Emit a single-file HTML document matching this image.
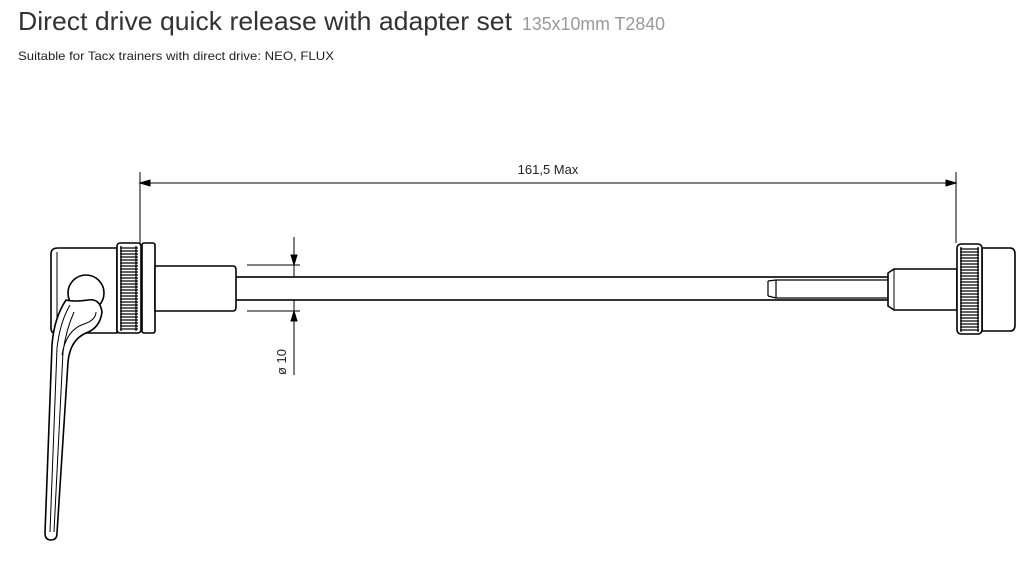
<!DOCTYPE html>
<html><head><style>body{margin:0;background:#fff}svg{display:block}</style></head><body>
<svg width="1032" height="568" xmlns="http://www.w3.org/2000/svg" font-family="Liberation Sans, sans-serif">
<text x="18" y="30" font-size="26" fill="#333" textLength="494" lengthAdjust="spacingAndGlyphs">Direct drive quick release with adapter set</text>
<text x="522" y="30" font-size="18" fill="#999" textLength="143" lengthAdjust="spacingAndGlyphs">135x10mm T2840</text>
<text x="18" y="60" font-size="12" fill="#222" textLength="316" lengthAdjust="spacingAndGlyphs">Suitable for Tacx trainers with direct drive: NEO, FLUX</text>
<g stroke="#000" fill="none" stroke-width="1">
<line x1="140" y1="172" x2="140" y2="243"/><line x1="956" y1="172" x2="956" y2="243"/>
<line x1="140" y1="183" x2="956" y2="183"/>
<path d="M140 183 l10 -3 v6 z M956 183 l-10 -3 v6 z" fill="#000"/>
<line x1="247" y1="265" x2="300" y2="265"/><line x1="247" y1="311" x2="300" y2="311"/>
<line x1="294" y1="237" x2="294" y2="375"/>
<path d="M294 265 l-3 -10 h6 z M294 311 l-3 10 h6 z" fill="#000"/>
</g>
<text x="548" y="174" font-size="13" text-anchor="middle" fill="#222">161,5 Max</text>
<text transform="translate(286,375) rotate(-90)" font-size="13" fill="#222">ø 10</text>
<g stroke="#000" fill="#fff" stroke-width="1.6">
<rect x="234" y="277" width="656" height="23"/>
<path d="M768 281 l8 -1 h113 M768 296 l8 2 h113 M768 281 v15 M776 280 v18" fill="none" stroke-width="1.2"/>
<path d="M58 248 H117 V333 H55 Q51 333 51 328 V254 Q51 248 58 248 Z"/>
<line x1="57" y1="252" x2="57" y2="330" stroke-width="1"/>
<rect x="117" y="243" width="24" height="90" rx="3"/>
<rect x="142" y="243" width="13" height="90" rx="2"/>
<path d="M155 266 H233 Q236 266 236 270 V307 Q236 311 233 311 H155 Z"/>
<circle cx="86" cy="293" r="18"/>
<path d="M66 300 Q54 318 52 345 L45 533 Q45 540 51 540 Q57 540 57 533 L68 362 Q70 340 86 333 Q100 328 102 312 Q100 298 88 300 Q74 302 66 300 Z"/>
<path d="M70 305 Q60 322 57 348 L50 532 M74 312 Q66 330 63 352 L54 532 M62 355 Q66 330 84 324 Q96 320 96 312" fill="none" stroke-width="1"/>
<path d="M894 269 H957 V310 H894 L888 306 V273 Z"/>
<line x1="894" y1="269" x2="894" y2="310" stroke-width="1"/>
<path d="M982 248 H1010 Q1015 248 1015 254 V325 Q1015 331 1010 331 H982 Z"/>
<rect x="957" y="244" width="25" height="90" rx="4"/>
</g>
<g stroke="#000" stroke-width="1.3">
<path d="M120 248H138M120 251H138M120 254H138M120 257H138M120 260H138M120 263H138M120 266H138M120 269H138M120 272H138M120 275H138M120 278H138M120 281H138M120 284H138M120 287H138M120 290H138M120 293H138M120 296H138M120 299H138M120 302H138M120 305H138M120 308H138M120 311H138M120 314H138M120 317H138M120 320H138M120 323H138M120 326H138M120 329H138"/>
<path d="M960 249H979M960 252H979M960 255H979M960 258H979M960 261H979M960 264H979M960 267H979M960 270H979M960 273H979M960 276H979M960 279H979M960 282H979M960 285H979M960 288H979M960 291H979M960 294H979M960 297H979M960 300H979M960 303H979M960 306H979M960 309H979M960 312H979M960 315H979M960 318H979M960 321H979M960 324H979M960 327H979M960 330H979"/>
<path d="M121 246V331M136 246V331M961 247V332M978 247V332"/>
</g>
</svg>
</body></html>
